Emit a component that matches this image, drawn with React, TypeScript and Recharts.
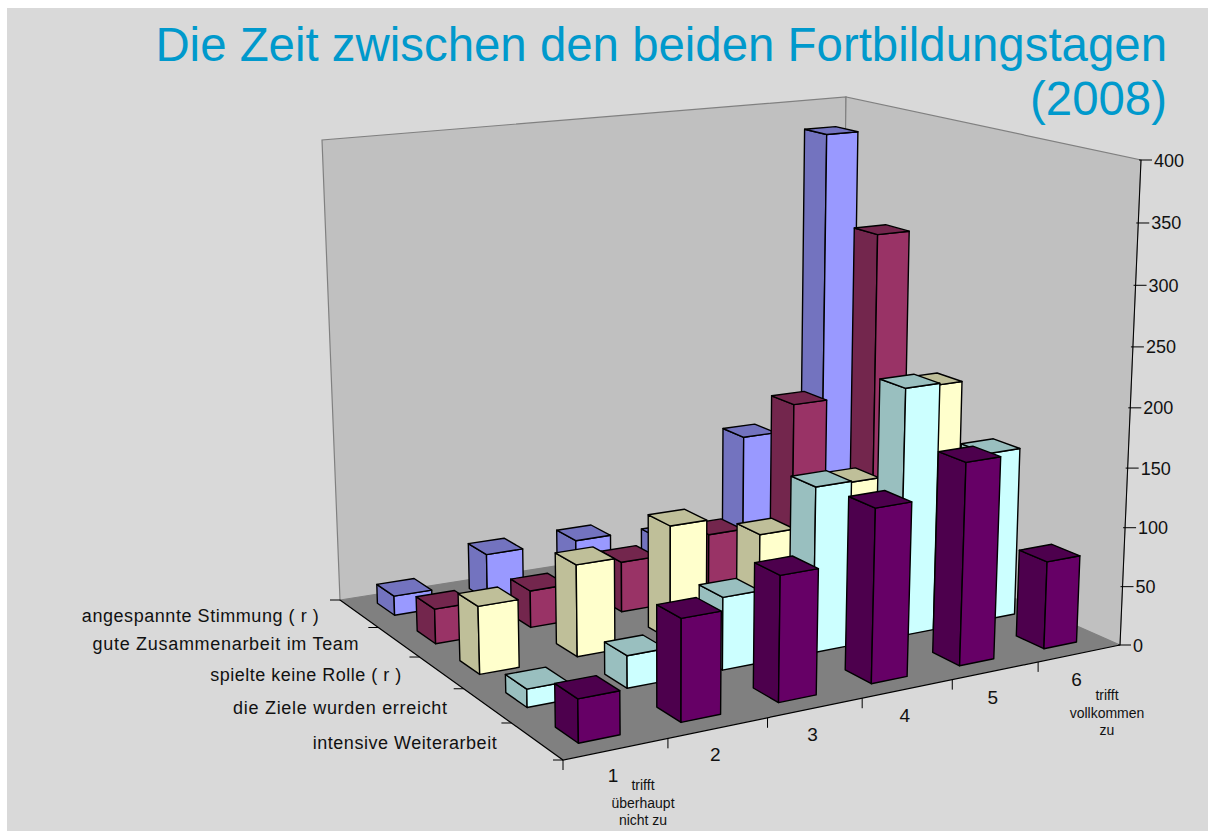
import { Bar, BarChart, XAxis, YAxis } from 'recharts'

type Pt = [number, number]

const categories = ['1', '2', '3', '4', '5', '6']
const seriesNames = [
    'angespannte Stimmung ( r )',
    'gute Zusammenarbeit im Team',
    'spielte keine Rolle ( r )',
    'die Ziele wurden erreicht',
    'intensive Weiterarbeit',
]
const labelWidths = [237, 266, 191, 214, 184]
const stimmung = [17, 41, 41, 30, 113, 378]
const zusammenarbeit = [30, 32, 44, 56, 161, 302]
const rolle = [57, 78, 98, 78, 111, 185]
const ziele = [15, 27, 61, 140, 211, 145]
const weiterarbeit = [35, 83, 103, 144, 169, 74]
const seriesValues = [stimmung, zusammenarbeit, rolle, ziele, weiterarbeit]
const valueTicks = [0, 50, 100, 150, 200, 250, 300, 350, 400]
const frontColors = ['#9999FF', '#993366', '#FFFFCC', '#CCFFFF', '#660066']
const sideColors = ['#7373BF', '#73264D', '#BFBF99', '#99BFBF', '#4D004D']

const chartData = categories.map((category, i) => {
    const row: Record<string, string | number> = { category }
    seriesNames.forEach((name, s) => {
        row[name] = seriesValues[s][i]
    })
    return row
})

// corners of the floor and of the plane at 400, in page pixels:
// back left, back, right, front
const FLOOR: Pt[] = [[340, 600], [840, 521], [1120, 645], [563, 760]]
const ROOF: Pt[] = [[322, 140], [846, 97], [1141, 160], [555, 225]]
const PLOT_TOP = 160
const PLOT_BOTTOM = 645
const PLOT_HEIGHT = PLOT_BOTTOM - PLOT_TOP
const BAR_U = 0.4
const BAR_V = 0.44
const BAR_SHIFT = 0.485

const makeHomography = ([p0, p1, p2, p3]: Pt[]) => {
    const dx1 = p1[0] - p2[0]
    const dx2 = p3[0] - p2[0]
    const sx = p0[0] - p1[0] + p2[0] - p3[0]
    const dy1 = p1[1] - p2[1]
    const dy2 = p3[1] - p2[1]
    const sy = p0[1] - p1[1] + p2[1] - p3[1]
    const d = dx1 * dy2 - dx2 * dy1
    const g = (sx * dy2 - dx2 * sy) / d
    const h = (dx1 * sy - sx * dy1) / d
    return (u: number, v: number): Pt => {
        const w = g * u + h * v + 1
        return [
            ((p1[0] - p0[0] + g * p1[0]) * u + (p3[0] - p0[0] + h * p3[0]) * v + p0[0]) / w,
            ((p1[1] - p0[1] + g * p1[1]) * u + (p3[1] - p0[1] + h * p3[1]) * v + p0[1]) / w,
        ]
    }
}

const floorAt = makeHomography(FLOOR)
const roofAt = makeHomography(ROOF)

// the height axis is foreshortened a little towards the top
const persp = (t: number) => t / (1.045 - 0.045 * t)

const project = (u: number, v: number, t: number): Pt => {
    const a = floorAt(u, v)
    const b = roofAt(u, v)
    const k = persp(t)
    return [a[0] + (b[0] - a[0]) * k, a[1] + (b[1] - a[1]) * k]
}

const toPoints = (pts: Pt[]) => pts.map((p) => `${p[0].toFixed(1)},${p[1].toFixed(1)}`).join(' ')

const makeBox = (seriesIndex: number) => (props: any) => {
    const t = props.height / PLOT_HEIGHT
    const uc = (props.index + BAR_SHIFT) / categories.length
    const vc = (seriesIndex + 0.5) / seriesNames.length
    const u0 = uc - BAR_U / categories.length / 2
    const u1 = uc + BAR_U / categories.length / 2
    const v0 = vc - BAR_V / seriesNames.length / 2
    const v1 = vc + BAR_V / seriesNames.length / 2
    const edge = { stroke: '#000', strokeWidth: 1.4, strokeLinejoin: 'round' as const }
    return (
        <g>
            <polygon
                points={toPoints([project(u0, v0, 0), project(u0, v1, 0), project(u0, v1, t), project(u0, v0, t)])}
                fill={sideColors[seriesIndex]}
                {...edge}
            />
            <polygon
                points={toPoints([project(u0, v1, 0), project(u1, v1, 0), project(u1, v1, t), project(u0, v1, t)])}
                fill={frontColors[seriesIndex]}
                {...edge}
            />
            <polygon
                points={toPoints([project(u0, v0, t), project(u0, v1, t), project(u1, v1, t), project(u1, v0, t)])}
                fill={sideColors[seriesIndex]}
                {...edge}
            />
        </g>
    )
}

const ValueTick = (props: any) => {
    const t = (PLOT_BOTTOM - props.y) / PLOT_HEIGHT
    const [x, y] = project(1, 1, t)
    return (
        <g>
            <line x1={x - 2} y1={y} x2={x + 11} y2={y} stroke="#000" />
            <text x={x + 13} y={y + 6.5} fontSize={18} fill="#111" fontFamily="Liberation Sans">
                {props.payload.value}
            </text>
        </g>
    )
}

const CategoryTick = (props: any) => {
    const i = props.index
    const mid = project((i + 0.5) / categories.length, 1, 0)
    const mark = project((i + 1) / categories.length, 1, 0)
    return (
        <g>
            <text x={mid[0] - 3} y={mid[1] + 33} textAnchor="middle" fontSize={19} fill="#111" fontFamily="Liberation Sans">
                {props.payload.value}
            </text>
            {i < categories.length - 1 && (
                <line x1={mark[0]} y1={mark[1]} x2={mark[0]} y2={mark[1] + 10} stroke="#000" />
            )}
        </g>
    )
}

const Scene = () => {
    const left = [FLOOR[0], FLOOR[1], ROOF[1], ROOF[0]]
    const right = [FLOOR[1], FLOOR[2], ROOF[2], ROOF[1]]
    return (
        <g fontFamily="Liberation Sans">
            <polygon points={toPoints(left)} fill="#C0C0C0" stroke="#808080" strokeWidth={1.2} />
            <polygon points={toPoints(right)} fill="#C0C0C0" stroke="#808080" strokeWidth={1.2} />
            <polygon points={toPoints(FLOOR)} fill="#808080" />
            <polyline points={toPoints([FLOOR[0], FLOOR[3], FLOOR[2]])} fill="none" stroke="#000" strokeWidth={1.2} />
            <line x1={FLOOR[2][0]} y1={FLOOR[2][1]} x2={ROOF[2][0]} y2={ROOF[2][1]} stroke="#000" />
            <line x1={FLOOR[3][0]} y1={FLOOR[3][1]} x2={FLOOR[3][0]} y2={FLOOR[3][1] + 10} stroke="#000" />
            {[0, 1, 2, 3, 4, 5].map((i) => {
                const p = project(0, i / seriesNames.length, 0)
                return <line key={i} x1={p[0] - 10} y1={p[1]} x2={p[0]} y2={p[1]} stroke="#000" />
            })}
            {seriesNames.map((name, s) => {
                const p = project(0, (s + 0.5) / seriesNames.length, 0)
                return (
                    <text
                        key={name}
                        x={p[0] - 40}
                        y={p[1] + 8}
                        textAnchor="end"
                        fontSize={18}
                        fill="#111"
                        textLength={labelWidths[s]}
                        lengthAdjust="spacing"
                    >
                        {name}
                    </text>
                )
            })}
            <text x={1167} y={61} textAnchor="end" fontSize={47.4} fill="#0099CC">
                Die Zeit zwischen den beiden Fortbildungstagen
            </text>
            <text x={1167} y={115} textAnchor="end" fontSize={47.4} fill="#0099CC">
                (2008)
            </text>
            <g fontSize={14} fill="#111" textAnchor="middle">
                <text x={643} y={790}>trifft</text>
                <text x={643} y={808}>überhaupt</text>
                <text x={643} y={825}>nicht zu</text>
                <text x={1107} y={700}>trifft</text>
                <text x={1107} y={718}>vollkommen</text>
                <text x={1107} y={735}>zu</text>
            </g>
        </g>
    )
}

export default function App() {
    return (
        <div style={{ position: 'fixed', left: 7, top: 8, right: 0, bottom: 0, background: '#D9D9D9', overflow: 'hidden' }}>
            <div style={{ position: 'absolute', left: -7, top: -8 }}>
                <BarChart
                    width={1208}
                    height={831}
                    data={chartData}
                    margin={{ top: PLOT_TOP, right: 8, bottom: 831 - PLOT_BOTTOM - 30, left: 340 }}
                >
                    <Scene />
                    <XAxis dataKey="category" height={30} interval={0} axisLine={false} tickLine={false} tick={CategoryTick} />
                    <YAxis
                        orientation="right"
                        width={80}
                        domain={[0, 400]}
                        ticks={valueTicks}
                        interval={0}
                        axisLine={false}
                        tickLine={false}
                        tick={ValueTick}
                    />
                    {seriesNames.map((name, s) => (
                        <Bar key={name} dataKey={name} shape={makeBox(s)} isAnimationActive={false} />
                    ))}
                </BarChart>
            </div>
        </div>
    )
}
